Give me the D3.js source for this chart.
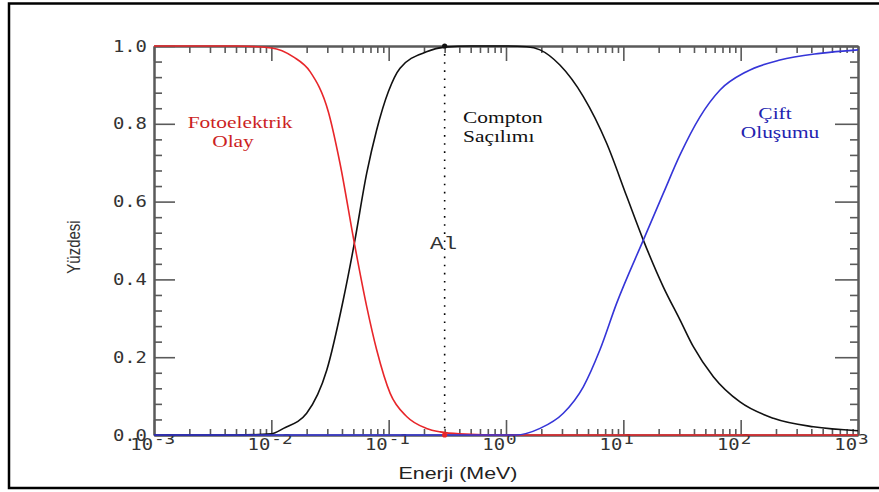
<!DOCTYPE html>
<html>
<head>
<meta charset="utf-8">
<script src="https://cdn.jsdelivr.net/npm/d3@7"></script>
<style>
  body { margin: 0; background: #fff; }
  svg { display: block; }
</style>
</head>
<body>
<div id="chart"></div>
<script>
// values (energy in MeV, fraction 0..1)
var photoE = [0.001, 0.005, 0.01, 0.0154, 0.0214, 0.0306, 0.0385, 0.051, 0.065, 0.079, 0.103, 0.143, 0.21, 0.275, 0.4, 1, 10, 100, 1000];
var photoV = [1, 1, 0.995, 0.972, 0.934, 0.831, 0.698, 0.493, 0.33, 0.219, 0.107, 0.047, 0.017, 0.008, 0.003, 0, 0, 0, 0];

var comptonE = [0.001, 0.005, 0.01, 0.0127, 0.02, 0.0297, 0.041, 0.051, 0.065, 0.079, 0.0995, 0.125, 0.21, 0.3, 0.5, 1, 1.5, 1.95, 2.88, 4.56, 7.21, 10.7, 14.8, 21.9, 30.4, 39.5, 58.5, 98.7, 190, 416, 1000];
var comptonV = [0, 0, 0.003, 0.017, 0.056, 0.167, 0.347, 0.493, 0.673, 0.784, 0.883, 0.943, 0.985, 0.997, 1, 1, 0.998, 0.99, 0.951, 0.87, 0.75, 0.613, 0.501, 0.381, 0.296, 0.227, 0.15, 0.085, 0.043, 0.021, 0.011];

var pairE = [0.001, 0.1, 1, 1.2, 1.95, 3.08, 4.56, 6.32, 8.78, 14.8, 21.9, 30.4, 45, 66.7, 112, 216, 474, 1000];
var pairV = [0, 0, 0, 0, 0.017, 0.056, 0.124, 0.219, 0.339, 0.501, 0.621, 0.72, 0.818, 0.887, 0.934, 0.964, 0.981, 0.99];

var xMajor = [-3, -2, -1, 0, 1, 2, 3];
var yMajor = [0, 0.2, 0.4, 0.6, 0.8, 1.0];
var yMinor = [0.04, 0.08, 0.12, 0.16, 0.24, 0.28, 0.32, 0.36, 0.44, 0.48, 0.52, 0.56, 0.64, 0.68, 0.72, 0.76, 0.84, 0.88, 0.92, 0.96];
var alE = 0.3;

var w = 879, h = 492;
var sx = 1.26; // text in the picture is stretched sideways
var axisCol = "#5a5a5a";

var svg = d3.select("#chart").append("svg").attr("width", w).attr("height", h);

svg.append("rect")
  .attr("x", 9).attr("y", 3.5).attr("width", 890).attr("height", 484.5)
  .attr("fill", "none").attr("stroke", "#000").attr("stroke-width", 2.5);

var x = d3.scaleLog().domain([1e-3, 1e3]).range([154, 858]);
var y = d3.scaleLinear().domain([0, 1]).range([435, 46]);

var xMinor = [];
xMajor.slice(0, -1).forEach(function (p) {
  for (var k = 2; k <= 9; k++) xMinor.push(k * Math.pow(10, p));
});
var xMajorV = xMajor.map(function (p) { return Math.pow(10, p); });

function styleAxis(g) {
  g.selectAll("path").attr("stroke", axisCol).attr("stroke-width", 2);
  g.selectAll("line").attr("stroke", axisCol).attr("stroke-width", 1.6);
  g.selectAll("text").remove();
}

// bottom
svg.append("g").attr("transform", "translate(0," + y(0) + ")")
  .call(d3.axisBottom(x).tickValues(xMajorV).tickSizeInner(-15).tickSizeOuter(0).tickFormat(""))
  .call(styleAxis);
svg.append("g").attr("transform", "translate(0," + y(0) + ")")
  .call(d3.axisBottom(x).tickValues(xMinor).tickSizeInner(-6).tickSizeOuter(0).tickFormat(""))
  .call(styleAxis);
// top
svg.append("g").attr("transform", "translate(0," + y(1) + ")")
  .call(d3.axisTop(x).tickValues(xMajorV).tickSizeInner(-15).tickSizeOuter(0).tickFormat(""))
  .call(styleAxis);
svg.append("g").attr("transform", "translate(0," + y(1) + ")")
  .call(d3.axisTop(x).tickValues(xMinor).tickSizeInner(-7).tickSizeOuter(0).tickFormat(""))
  .call(styleAxis);
// left
svg.append("g").attr("transform", "translate(" + x(1e-3) + ",0)")
  .call(d3.axisLeft(y).tickValues(yMajor).tickSizeInner(-21).tickSizeOuter(0).tickFormat(""))
  .call(styleAxis);
svg.append("g").attr("transform", "translate(" + x(1e-3) + ",0)")
  .call(d3.axisLeft(y).tickValues(yMinor).tickSizeInner(-8).tickSizeOuter(0).tickFormat(""))
  .call(styleAxis);
// right
svg.append("g").attr("transform", "translate(" + x(1e3) + ",0)")
  .call(d3.axisRight(y).tickValues(yMajor).tickSizeInner(-23).tickSizeOuter(0).tickFormat(""))
  .call(styleAxis);
svg.append("g").attr("transform", "translate(" + x(1e3) + ",0)")
  .call(d3.axisRight(y).tickValues(yMinor).tickSizeInner(-8).tickSizeOuter(0).tickFormat(""))
  .call(styleAxis);

// tick labels
var mono = "'DejaVu Sans Mono', monospace";
svg.selectAll(".ylab").data(yMajor).enter().append("text")
  .attr("class", "ylab")
  .attr("transform", function (d) { return "translate(147," + (y(d) + 5.5) + ") scale(" + sx + ",1)"; })
  .attr("text-anchor", "end")
  .attr("font-family", mono).attr("font-size", 15).attr("fill", "#333")
  .text(function (d) { return d.toFixed(1); });

var xl = svg.selectAll(".xlab").data(xMajor).enter().append("g")
  .attr("class", "xlab")
  .attr("transform", function (d) { return "translate(" + x(Math.pow(10, d)) + ",0)"; });
xl.append("text")
  .attr("transform", "translate(-1,450) scale(" + sx + ",1)")
  .attr("text-anchor", "end")
  .attr("font-family", mono).attr("font-size", 15).attr("fill", "#333")
  .text("10");
xl.append("text")
  .attr("transform", "translate(0,444) scale(" + sx + ",1)")
  .attr("font-family", mono).attr("font-size", 14).attr("fill", "#333")
  .text(function (d) { return d < 0 ? "-" + (-d) : d; });

// axis titles
svg.append("text")
  .attr("transform", "translate(458,479) scale(" + sx + ",1)")
  .attr("text-anchor", "middle")
  .attr("font-family", "'Liberation Sans', Arial, sans-serif").attr("font-size", 17).attr("fill", "#222")
  .text("Enerji (MeV)");
svg.append("text")
  .attr("transform", "translate(80,247) rotate(-90) scale(1," + sx + ")")
  .attr("text-anchor", "middle")
  .attr("font-family", "'Liberation Sans', Arial, sans-serif").attr("font-size", 15).attr("fill", "#333")
  .text("Yüzdesi");

// dotted marker line
svg.append("line")
  .attr("x1", x(alE)).attr("x2", x(alE)).attr("y1", y(1)).attr("y2", y(0))
  .attr("stroke", "#000").attr("stroke-width", 1.6).attr("stroke-dasharray", "1.6,6.5");

// curves
var line = d3.line()
  .x(function (d) { return x(d[0]); })
  .y(function (d) { return y(d[1]); })
  .curve(d3.curveMonotoneX);

function series(es, vs) { return es.map(function (e, i) { return [e, vs[i]]; }); }

svg.append("path").datum(series(comptonE, comptonV))
  .attr("d", line).attr("fill", "none").attr("stroke", "#111").attr("stroke-width", 1.6);
svg.append("path").datum(series(photoE, photoV))
  .attr("d", line).attr("fill", "none").attr("stroke", "#e8262a").attr("stroke-width", 1.6);
svg.append("path").datum(series(pairE, pairV))
  .attr("d", line).attr("fill", "none").attr("stroke", "#3535d8").attr("stroke-width", 1.6);

svg.append("circle").attr("cx", x(alE)).attr("cy", y(1)).attr("r", 2.6).attr("fill", "#111");
svg.append("circle").attr("cx", x(alE)).attr("cy", y(0)).attr("r", 2.6).attr("fill", "#e8262a");

// curve labels
var serif = "'Liberation Serif', 'Times New Roman', serif";
function label(txt, tx, ty, col, anchor, fam, size) {
  svg.append("text")
    .attr("transform", "translate(" + tx + "," + ty + ") scale(" + sx + ",1)")
    .attr("text-anchor", anchor)
    .attr("font-family", fam).attr("font-size", size).attr("fill", col)
    .text(txt);
}
label("Fotoelektrik", 240, 128, "#cc1f24", "middle", serif, 17);
label("Olay", 233, 147, "#cc1f24", "middle", serif, 17);
label("Compton", 463, 123, "#111", "start", serif, 17);
label("Saçılımı", 463, 142, "#111", "start", serif, 17);
label("Çift", 775, 119, "#2323b0", "middle", serif, 17);
label("Oluşumu", 780, 138, "#2323b0", "middle", serif, 17);
label("Al", 430, 249, "#333", "start", "'Liberation Mono', monospace", 18);
</script>
</body>
</html>
